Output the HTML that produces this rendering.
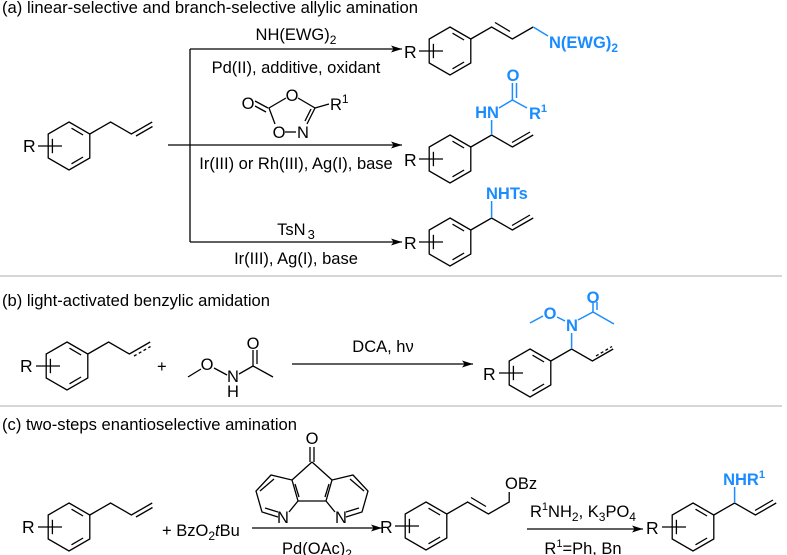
<!DOCTYPE html>
<html><head><meta charset="utf-8"><style>
html,body{margin:0;padding:0;background:#fff;}
svg{display:block;}
text{font-family:"Liberation Sans",Arial,sans-serif;font-size:16.5px;fill:#000;}
.b{fill:#1a8cff;font-weight:bold;}
.r{font-size:17.5px;}
</style></head><body>
<svg width="787" height="555" viewBox="0 0 787 555" xmlns="http://www.w3.org/2000/svg">
<defs>
<g id="bz" fill="none" stroke="#000" stroke-width="1.3">
<polygon points="0,-24 20.8,-12 20.8,12 0,24 -20.8,12 -20.8,-12"/>
<line x1="2.5" y1="-17.8" x2="14.1" y2="-11"/>
<line x1="14.1" y1="11" x2="2.5" y2="17.8"/>
<line x1="-16.6" y1="7.2" x2="-16.6" y2="-7.2"/>
<line x1="-31" y1="0" x2="-7" y2="0"/>
</g>
<marker id="ah" markerWidth="12" markerHeight="8" refX="11" refY="4" orient="auto" markerUnits="userSpaceOnUse">
<path d="M0,0.5 L11,4 L0,7.5 L2.5,4 Z" fill="#000"/>
</marker>
</defs>

<text x="2" y="13" textLength="416" lengthAdjust="spacingAndGlyphs">(a) linear-selective and branch-selective allylic amination</text>
<text x="2" y="306" textLength="268" lengthAdjust="spacingAndGlyphs">(b) light-activated benzylic amidation</text>
<text x="2" y="430" textLength="295" lengthAdjust="spacingAndGlyphs">(c) two-steps enantioselective amination</text>

<line x1="0" y1="276" x2="782" y2="276" stroke="#c8c8c8" stroke-width="1.5"/>
<line x1="0" y1="406" x2="782" y2="406" stroke="#c8c8c8" stroke-width="1.5"/>

<g stroke="#000" stroke-width="1.3" fill="none">
<use href="#bz" transform="translate(69,146)"/>
<polyline points="89.8,134 110.6,122 131.4,134 152.2,122"/>
<line x1="136" y1="136" x2="152.5" y2="126.5"/>
<line x1="190" y1="49" x2="190" y2="242"/>
<line x1="190" y1="49" x2="402" y2="49" marker-end="url(#ah)"/>
<line x1="168" y1="145" x2="402" y2="145" marker-end="url(#ah)"/>
<line x1="190" y1="242" x2="402" y2="242" marker-end="url(#ah)"/>
<line x1="255" y1="101" x2="268" y2="108"/>
<line x1="255" y1="106" x2="266" y2="112"/>
<polyline points="286,98 269,108 275,124"/>
<polyline points="298,98 315,108 307,124"/>
<line x1="311" y1="109" x2="305" y2="121"/>
<line x1="315" y1="108" x2="329" y2="104"/>
<line x1="285" y1="132" x2="296" y2="132"/>
<use href="#bz" transform="translate(450,51)"/>
<polyline points="470.8,39 491.6,27 512.4,39 533.2,27"/>
<line x1="495" y1="22.5" x2="510" y2="31.5"/>
<use href="#bz" transform="translate(450,159)"/>
<polyline points="470.8,147 491.6,135 512.4,147 533.2,135"/>
<line x1="512" y1="142.5" x2="530" y2="132"/>
<use href="#bz" transform="translate(450,242)"/>
<polyline points="470.8,230 491.6,218 512.4,230 533.2,218"/>
<line x1="512" y1="225.5" x2="530" y2="215"/>

<use href="#bz" transform="translate(67,366)"/>
<polyline points="87.8,354 108.6,342 129.4,354 150.2,342"/>
<line x1="134" y1="356" x2="150.5" y2="346.5" stroke-dasharray="3,2.5"/>
<line x1="188" y1="377" x2="201" y2="369"/>
<line x1="214" y1="368" x2="227" y2="375"/>
<line x1="239" y1="374" x2="253" y2="366"/>
<line x1="253" y1="366" x2="253" y2="350"/>
<line x1="257" y1="364" x2="257" y2="350"/>
<line x1="253" y1="366" x2="273" y2="377"/>
<line x1="292" y1="364" x2="473" y2="364" marker-end="url(#ah)"/>
<use href="#bz" transform="translate(530,373)"/>
<polyline points="550.8,361 571.6,349 592.4,361 613.2,349"/>
<line x1="596" y1="356" x2="612" y2="346.5" stroke-dasharray="3,2.5"/>

<use href="#bz" transform="translate(69,527)"/>
<polyline points="89.8,515 110.6,503 131.4,515 152.2,503"/>
<line x1="136" y1="517" x2="152.5" y2="507.5"/>
<line x1="252" y1="528" x2="382" y2="528" marker-end="url(#ah)"/>
<line x1="310" y1="462" x2="310" y2="447"/>
<line x1="314" y1="462" x2="314" y2="447"/>
<line x1="312" y1="462" x2="292" y2="480"/>
<line x1="312" y1="462" x2="332" y2="480"/>
<line x1="298" y1="501" x2="326" y2="501"/>
<polyline points="278,517 262,512 256,491 271,475 292,480 298,501 289,512"/>
<line x1="295" y1="484" x2="299" y2="497"/>
<line x1="274" y1="479" x2="260" y2="491"/>
<line x1="265" y1="508" x2="278" y2="512"/>
<polyline points="346,517 362,512 368,491 353,475 332,480 326,501 335,512"/>
<line x1="329" y1="484" x2="325" y2="497"/>
<line x1="350" y1="479" x2="364" y2="491"/>
<line x1="359" y1="508" x2="346" y2="512"/>
<use href="#bz" transform="translate(426,526)"/>
<polyline points="446.8,514 467.6,502 488.4,514 509.2,502 509.2,492"/>
<line x1="471" y1="497.5" x2="486" y2="506.5"/>
<line x1="527" y1="529" x2="643" y2="529" marker-end="url(#ah)"/>
<use href="#bz" transform="translate(693,527)"/>
<polyline points="713.8,515 734.6,503 755.4,515 776.2,503"/>
<line x1="755" y1="510.5" x2="773" y2="500"/>
</g>

<g stroke="#1a8cff" stroke-width="1.5" fill="none">
<line x1="533.2" y1="27" x2="548" y2="36"/>
<line x1="491.6" y1="135" x2="491.6" y2="120"/>
<line x1="499" y1="108" x2="512.4" y2="100"/>
<line x1="512.4" y1="100" x2="512.4" y2="83"/>
<line x1="516.5" y1="98" x2="516.5" y2="83"/>
<line x1="512.4" y1="100" x2="527" y2="108"/>
<line x1="491.6" y1="218" x2="491.6" y2="201"/>
<line x1="571.6" y1="349" x2="571.6" y2="333"/>
<line x1="530" y1="323" x2="543" y2="316"/>
<line x1="557" y1="317" x2="565" y2="321"/>
<line x1="578" y1="320" x2="593" y2="312"/>
<line x1="593" y1="312" x2="593" y2="302"/>
<line x1="597" y1="310" x2="597" y2="302"/>
<line x1="593" y1="312" x2="614" y2="324"/>
<line x1="734.6" y1="503" x2="734.6" y2="487"/>
</g>

<text class="r" x="23" y="152">R</text>
<text class="r" x="404" y="58">R</text>
<text class="r" x="404" y="166">R</text>
<text class="r" x="404" y="249">R</text>
<text class="r" x="20" y="372">R</text>
<text class="r" x="483" y="380">R</text>
<text class="r" x="22" y="533">R</text>
<text class="r" x="380" y="533">R</text>
<text class="r" x="646" y="534">R</text>

<text x="296" y="40" text-anchor="middle">NH(EWG)<tspan font-size="12" dy="4">2</tspan></text>
<text x="296" y="73" text-anchor="middle">Pd(II), additive, oxidant</text>
<text x="248" y="109" text-anchor="middle">O</text>
<text x="292" y="101" text-anchor="middle">O</text>
<text x="330" y="110">R<tspan font-size="12" dy="-7">1</tspan></text>
<text x="279" y="138" text-anchor="middle">O</text>
<text x="303" y="138" text-anchor="middle">N</text>
<text x="296" y="169" text-anchor="middle">Ir(III) or Rh(III), Ag(I), base</text>
<text x="296" y="235" text-anchor="middle">TsN<tspan font-size="13" dx="2" dy="4">3</tspan></text>
<text x="296" y="264" text-anchor="middle">Ir(III), Ag(I), base</text>

<text class="b" x="549" y="48">N(EWG)<tspan font-size="12" dy="4">2</tspan></text>
<text class="b" x="487" y="118" text-anchor="middle">HN</text>
<text class="b" x="513" y="81" text-anchor="middle">O</text>
<text class="b" x="529" y="119">R<tspan font-size="11" dy="-7">1</tspan></text>
<text class="b" x="486" y="199">NHTs</text>

<text x="157" y="372">+</text>
<text x="207" y="370" text-anchor="middle">O</text>
<text x="233" y="382" text-anchor="middle">N</text>
<text x="233" y="397" text-anchor="middle">H</text>
<text x="253" y="349" text-anchor="middle">O</text>
<text x="383" y="352" text-anchor="middle">DCA, hν</text>
<text class="b" x="550" y="319" text-anchor="middle">O</text>
<text class="b" x="572" y="331" text-anchor="middle">N</text>
<text class="b" x="593" y="303" text-anchor="middle">O</text>

<text x="162" y="536">+ BzO<tspan font-size="12" dy="4">2</tspan><tspan dy="-4" font-style="italic">t</tspan>Bu</text>
<text x="312" y="444" text-anchor="middle">O</text>
<text x="283" y="523" text-anchor="middle">N</text>
<text x="341" y="523" text-anchor="middle">N</text>
<text x="317" y="554" text-anchor="middle">Pd(OAc)<tspan font-size="12" dy="4">2</tspan></text>
<text x="505" y="489">OBz</text>
<text x="583" y="517" text-anchor="middle">R<tspan font-size="11" dy="-7">1</tspan><tspan dy="7">NH</tspan><tspan font-size="12" dy="4">2</tspan><tspan dy="-4">, K</tspan><tspan font-size="12" dy="4">3</tspan><tspan dy="-4">PO</tspan><tspan font-size="12" dy="4">4</tspan></text>
<text x="583" y="554" text-anchor="middle">R<tspan font-size="11" dy="-7">1</tspan><tspan dy="7">=Ph, Bn</tspan></text>
<text class="b" x="744" y="485" text-anchor="middle">NHR<tspan font-size="11" dy="-7">1</tspan></text>
</svg>
</body></html>
